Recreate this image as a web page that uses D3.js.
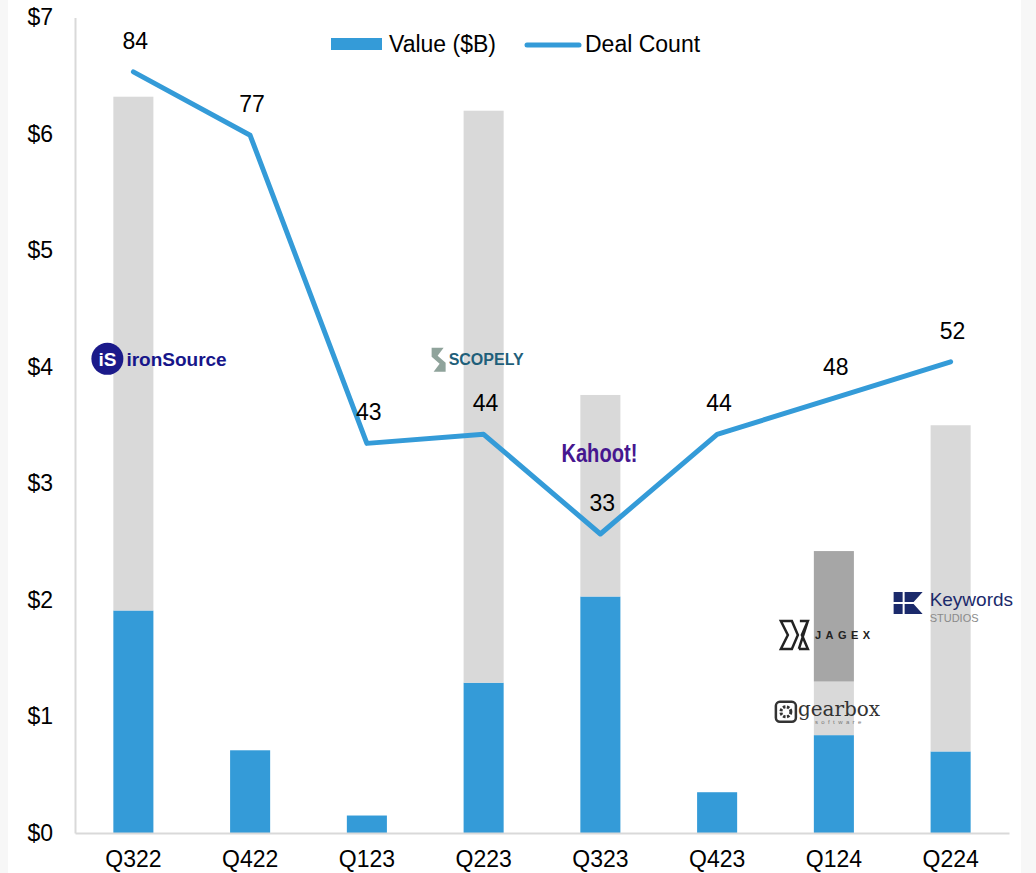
<!DOCTYPE html>
<html>
<head>
<meta charset="utf-8">
<script src="https://cdn.jsdelivr.net/npm/d3@7"></script>
<style>
  body { margin: 0; background: #f7f7f7; }
  svg { display: block; font-family: "Liberation Sans", Arial, sans-serif; }
</style>
</head>
<body>
<svg id="chart" width="1036" height="873"></svg>
<script>
// Quarterly data
const quarters = ["Q322", "Q422", "Q123", "Q223", "Q323", "Q423", "Q124", "Q224"];
const baseValue = [1.91, 0.71, 0.15, 1.29, 2.03, 0.35, 0.84, 0.70];   // blue part ($B)
const bigDealA = [4.41, 0, 0, 4.91, 1.73, 0, 0.46, 2.80];            // light grey
const bigDealB = [0, 0, 0, 0, 0, 0, 1.12, 0];                        // dark grey (Jagex)
const dealCount = [84, 77, 43, 44, 33, 44, 48, 52];
const yTicks = [0, 1, 2, 3, 4, 5, 6, 7];

// Logos marking the big deals (quarter + value level)
const logos = [
    { name: "ironSource", quarter: "Q322", value: 4.07 },
    { name: "Scopely", quarter: "Q223", value: 4.07 },
    { name: "Kahoot", quarter: "Q323", value: 3.27 },
    { name: "Jagex", quarter: "Q124", value: 1.70 },
    { name: "Gearbox", quarter: "Q124", value: 1.04 },
    { name: "Keywords", quarter: "Q224", value: 1.94 }
];

const svg = d3.select("#chart");
svg.append("rect").attr("x", 8).attr("y", 0).attr("width", 1013).attr("height", 873).attr("fill", "#fff");

const plotLeft = 75, plotRight = 1009, plotTop = 17.5, plotBottom = 833;
const fontSize = 23;

const x = d3.scaleBand().domain(quarters).range([plotLeft, plotRight]).paddingInner(0.657).paddingOuter(0.3285);
const y = d3.scaleLinear().domain([0, 7]).range([plotBottom, plotTop]);
const y2 = d3.scaleLinear().domain([0, 90]).range([plotBottom, plotTop]);

const blue = "#349bd8";

// stacked bars
const rows = quarters.map((q, i) => ({ q: q, base: baseValue[i], a: bigDealA[i], b: bigDealB[i] }));
const stack = d3.stack().keys(["base", "a", "b"])(rows);
const fills = { base: blue, a: "#d9d9d9", b: "#a6a6a6" };

svg.append("g").selectAll("g")
    .data(stack)
    .join("g")
    .attr("fill", d => fills[d.key])
    .selectAll("rect")
    .data(d => d)
    .join("rect")
    .attr("x", d => x(d.data.q))
    .attr("width", x.bandwidth())
    .attr("y", d => y(d[1]))
    .attr("height", d => y(d[0]) - y(d[1]));

// axes
const yAxis = svg.append("g")
    .attr("transform", "translate(" + plotLeft + ",0)")
    .call(d3.axisLeft(y).tickValues(yTicks).tickFormat(d => "$" + d).tickSize(0).tickSizeOuter(0).tickPadding(22));
const xAxis = svg.append("g")
    .attr("transform", "translate(0," + plotBottom + ")")
    .call(d3.axisBottom(x).tickSize(0).tickSizeOuter(0).tickPadding(18));

[yAxis, xAxis].forEach(ax => {
    ax.select(".domain").attr("stroke", "#d9d9d9").attr("stroke-width", 2);
    ax.selectAll("text").attr("font-size", fontSize).attr("fill", "#000")
        .attr("font-family", "'Liberation Sans', Arial, sans-serif");
});

// deal count line
const line = d3.line()
    .x((d, i) => x(quarters[i]) + x.bandwidth() / 2)
    .y(d => y2(d));

svg.append("path")
    .datum(dealCount)
    .attr("d", line)
    .attr("fill", "none")
    .attr("stroke", blue)
    .attr("stroke-width", 5)
    .attr("stroke-linecap", "round")
    .attr("stroke-linejoin", "round");

svg.append("g").selectAll("text")
    .data(dealCount)
    .join("text")
    .attr("x", (d, i) => x(quarters[i]) + x.bandwidth() / 2 + 2)
    .attr("y", d => y2(d) - 23)
    .attr("text-anchor", "middle")
    .attr("font-size", fontSize)
    .text(d => d);

// legend
const legend = svg.append("g");
legend.append("rect").attr("x", 331).attr("y", 38).attr("width", 51).attr("height", 12).attr("fill", blue);
legend.append("text").attr("x", 389).attr("y", 52).attr("font-size", fontSize).text("Value ($B)");
legend.append("line").attr("x1", 527).attr("x2", 579).attr("y1", 45).attr("y2", 45)
    .attr("stroke", blue).attr("stroke-width", 5).attr("stroke-linecap", "round");
legend.append("text").attr("x", 585).attr("y", 52).attr("font-size", fontSize).text("Deal Count");

// logos
const drawLogo = {
    ironSource(g) {
        g.append("circle").attr("cx", -26).attr("cy", 0).attr("r", 16).attr("fill", "#1b1a8a");
        g.append("text").attr("x", -26).attr("y", 7).attr("text-anchor", "middle")
            .attr("font-size", 19).attr("font-weight", "bold").attr("fill", "#fff").text("iS");
        g.append("text").attr("x", -7).attr("y", 7).attr("font-size", 19).attr("font-weight", "bold")
            .attr("fill", "#17168a").text("ironSource");
    },
    Scopely(g) {
        g.append("path").attr("d", "M-52,-11 L-40,-11 L-46,-3 L-38,4 L-38,13 L-50,13 L-44,5 L-52,-2 Z")
            .attr("fill", "#8fa39b");
        g.append("text").attr("x", -35).attr("y", 6).attr("font-size", 16).attr("font-weight", "bold")
            .attr("fill", "#1f5f7a").text("SCOPELY");
    },
    Kahoot(g) {
        g.append("text").attr("x", -39).attr("y", 10).attr("font-size", 25).attr("font-weight", "bold")
            .attr("textLength", 76).attr("lengthAdjust", "spacingAndGlyphs")
            .attr("fill", "#46178f").text("Kahoot!");
    },
    Jagex(g) {
        g.append("path").attr("d", "M-53,-14 L-42,-14 L-36,0 L-42,14 L-53,14 L-46,0 Z M-35,14 L-26,-14 M-34,-14 L-26,-14 L-32,0 L-26,14 L-35,14")
            .attr("fill", "none").attr("stroke", "#222").attr("stroke-width", 2.5).attr("stroke-linejoin", "miter");
        g.append("text").attr("x", -19).attr("y", 4).attr("font-size", 11).attr("font-weight", "bold")
            .attr("letter-spacing", 4.5).attr("fill", "#222").text("JAGEX");
    },
    Gearbox(g) {
        g.append("rect").attr("x", -58).attr("y", -10).attr("width", 20).attr("height", 20).attr("rx", 4)
            .attr("fill", "none").attr("stroke", "#333").attr("stroke-width", 2.5);
        g.append("circle").attr("cx", -48).attr("cy", 0).attr("r", 5).attr("fill", "none")
            .attr("stroke", "#333").attr("stroke-width", 3).attr("stroke-dasharray", "2.5 1.5");
        g.append("text").attr("x", -36).attr("y", 4).attr("font-size", 20)
            .attr("font-family", "'DejaVu Serif', 'Liberation Serif', serif").attr("fill", "#333").text("gearbox");
        g.append("text").attr("x", -19).attr("y", 12).attr("font-size", 6).attr("letter-spacing", 3.4)
            .attr("fill", "#777").text("software");
    },
    Keywords(g) {
        g.append("path").attr("d", "M-57,-15 L-48,-15 L-48,-5 L-57,-5 Z M-57,-3 L-48,-3 L-48,7 L-57,7 Z M-46,-15 L-28,-15 L-37,-5 L-46,-5 Z M-46,-3 L-37,-3 L-28,7 L-46,7 Z")
            .attr("fill", "#1b2a6b");
        g.append("text").attr("x", -21).attr("y", -1).attr("font-size", 19).attr("fill", "#1b2a6b").text("Keywords");
        g.append("text").attr("x", -21).attr("y", 15).attr("font-size", 11).attr("fill", "#8a8a8a").text("STUDIOS");
    }
};

logos.forEach(l => {
    const g = svg.append("g")
        .attr("transform", "translate(" + (x(l.quarter) + x.bandwidth() / 2) + "," + y(l.value) + ")");
    drawLogo[l.name](g);
});
</script>
</body>
</html>
